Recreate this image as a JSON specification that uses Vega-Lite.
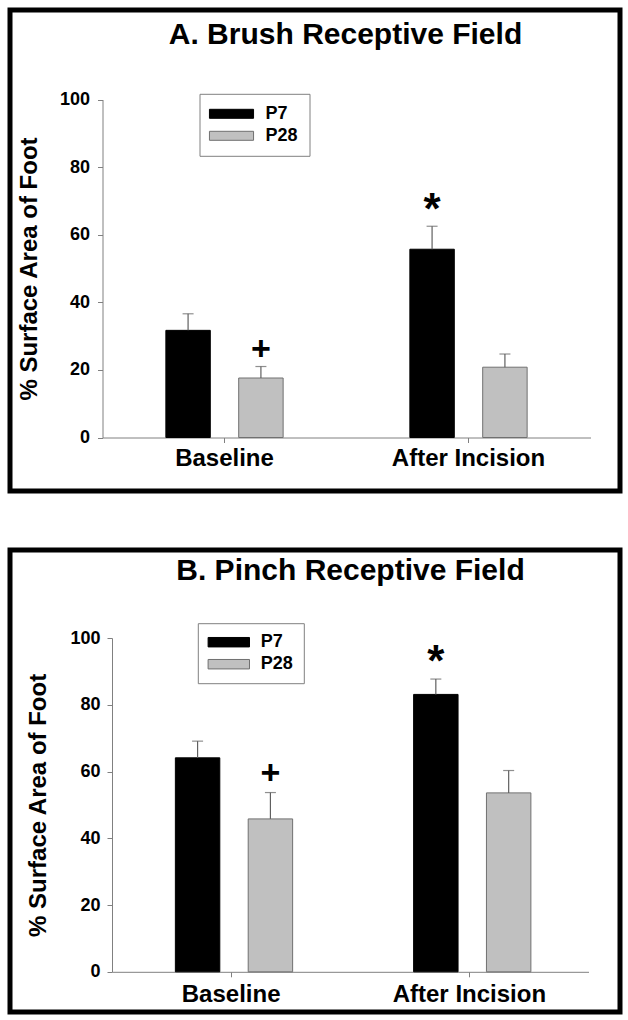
{
  "$schema": "https://vega.github.io/schema/vega-lite/v6.json",
  "padding": {"left": 7, "top": 7, "right": 6, "bottom": 7},
  "spacing": 53,
  "resolve": {"scale": {"fill": "independent", "stroke": "independent"}, "legend": {"fill": "independent", "stroke": "independent"}},
  "config": {
    "view": {"stroke": "black", "strokeWidth": 5},
    "font": "Liberation Sans",
    "axis": {"grid": false}
  },
  "datasets": {
    "brush": [
      {"condition": "Baseline", "age": "P7", "mean": 31.7, "upper": 36.6, "sig": ""},
      {"condition": "Baseline", "age": "P28", "mean": 17.6, "upper": 21.0, "sig": "+"},
      {"condition": "After Incision", "age": "P7", "mean": 55.7, "upper": 62.5, "sig": "*"},
      {"condition": "After Incision", "age": "P28", "mean": 20.8, "upper": 24.7, "sig": ""}
    ],
    "pinch": [
      {"condition": "Baseline", "age": "P7", "mean": 64.1, "upper": 69.1, "sig": ""},
      {"condition": "Baseline", "age": "P28", "mean": 45.8, "upper": 53.7, "sig": "+"},
      {"condition": "After Incision", "age": "P7", "mean": 83.1, "upper": 87.7, "sig": "*"},
      {"condition": "After Incision", "age": "P28", "mean": 53.6, "upper": 60.3, "sig": ""}
    ]
  },
  "vconcat": [
    {
      "width": 610,
      "height": 481,
      "title": {"text": "A. Brush Receptive Field", "fontSize": 30, "fontWeight": "bold", "color": "black", "anchor": "middle", "frame": "group", "baseline": "alphabetic", "offset": -38, "dx": 30.5, "dy": 26},
      "data": {"name": "brush"},
      "encoding": {
        "x": {
          "field": "condition", "type": "nominal", "sort": ["Baseline", "After Incision"],
          "scale": {"range": [92.5, 580.5], "paddingInner": 0, "paddingOuter": 0},
          "axis": {"orient": "bottom", "offset": -53.5, "title": null, "labelAngle": 0, "domainColor": "#808080", "tickColor": "#808080", "tickSize": 5, "labelFontSize": 24, "labelFontWeight": "bold", "labelColor": "black", "labelPadding": 4}
        },
        "xOffset": {"field": "age", "type": "nominal", "sort": ["P7", "P28"], "scale": {"paddingInner": 0.39, "paddingOuter": 0.87}}
      },
      "layer": [
        {
          "mark": {"type": "bar", "strokeWidth": 1},
          "encoding": {
            "y": {
              "field": "mean", "type": "quantitative",
              "scale": {"domain": [0, 100], "range": [427.5, 89.5], "nice": false},
              "axis": {"orient": "left", "offset": -92.5, "values": [0, 20, 40, 60, 80, 100], "domainColor": "#808080", "tickColor": "#808080", "tickSize": 5, "labelFontSize": 18, "labelFontWeight": "bold", "labelColor": "black", "labelPadding": 8, "title": "% Surface Area of Foot", "titleFontSize": 24, "titleFontWeight": "bold", "titleColor": "black", "titlePadding": 18}
            },
            "fill": {"field": "age", "type": "nominal", "sort": ["P7", "P28"], "scale": {"domain": ["P7", "P28"], "range": ["#000000", "#c0c0c0"]},
              "legend": {"orient": "none", "legendX": 189.5, "legendY": 83.8, "title": null, "strokeColor": "#808080", "fillColor": "white", "padding": 11, "labelFontSize": 18, "labelFontWeight": "bold", "labelColor": "black", "symbolType": "M-4.9,-1H4.9V1H-4.9Z", "symbolSize": 81, "symbolStrokeWidth": 1, "symbolOffset": 12, "labelOffset": 25, "rowPadding": 4}},
            "stroke": {"field": "age", "type": "nominal", "sort": ["P7", "P28"], "scale": {"domain": ["P7", "P28"], "range": ["#000000", "#707070"]}}
          }
        },
        {
          "mark": {"type": "rule", "color": "#606060", "strokeWidth": 1.2},
          "encoding": {"y": {"field": "mean", "type": "quantitative"}, "y2": {"field": "upper"}}
        },
        {
          "mark": {"type": "tick", "orient": "horizontal", "size": 11, "thickness": 1.2, "color": "#606060"},
          "encoding": {"y": {"field": "upper", "type": "quantitative"}}
        },
        {
          "transform": [{"filter": "datum.sig === '+'"}],
          "mark": {"type": "text", "fontWeight": "bold", "color": "black", "baseline": "middle", "align": "center", "fontSize": 34, "dy": -17},
          "encoding": {"y": {"field": "upper", "type": "quantitative"}, "text": {"field": "sig"}}
        },
        {
          "transform": [{"filter": "datum.sig === '*'"}],
          "mark": {"type": "text", "fontWeight": "bold", "color": "black", "baseline": "middle", "align": "center", "fontSize": 44, "dy": -15},
          "encoding": {"y": {"field": "upper", "type": "quantitative"}, "text": {"field": "sig"}}
        }
      ]
    },
    {
      "width": 610,
      "height": 462,
      "title": {"text": "B. Pinch Receptive Field", "fontSize": 30, "fontWeight": "bold", "color": "black", "anchor": "middle", "frame": "group", "baseline": "alphabetic", "offset": -36, "dx": 35.5, "dy": 24},
      "data": {"name": "pinch"},
      "encoding": {
        "x": {
          "field": "condition", "type": "nominal", "sort": ["Baseline", "After Incision"],
          "scale": {"range": [102, 578.5], "paddingInner": 0, "paddingOuter": 0},
          "axis": {"orient": "bottom", "offset": -40.2, "title": null, "labelAngle": 0, "domainColor": "#808080", "tickColor": "#808080", "tickSize": 5, "labelFontSize": 24, "labelFontWeight": "bold", "labelColor": "black", "labelPadding": 6}
        },
        "xOffset": {"field": "age", "type": "nominal", "sort": ["P7", "P28"], "scale": {"paddingInner": 0.39, "paddingOuter": 0.87}}
      },
      "layer": [
        {
          "mark": {"type": "bar", "strokeWidth": 1},
          "encoding": {
            "y": {
              "field": "mean", "type": "quantitative",
              "scale": {"domain": [0, 100], "range": [421.8, 88], "nice": false},
              "axis": {"orient": "left", "offset": -102, "values": [0, 20, 40, 60, 80, 100], "domainColor": "#808080", "tickColor": "#808080", "tickSize": 5, "labelFontSize": 18, "labelFontWeight": "bold", "labelColor": "black", "labelPadding": 7, "title": "% Surface Area of Foot", "titleFontSize": 24, "titleFontWeight": "bold", "titleColor": "black", "titlePadding": 19}
            },
            "fill": {"field": "age", "type": "nominal", "sort": ["P7", "P28"], "scale": {"domain": ["P7", "P28"], "range": ["#000000", "#c0c0c0"]},
              "legend": {"orient": "none", "legendX": 187.8, "legendY": 73.2, "title": null, "strokeColor": "#808080", "fillColor": "white", "padding": 10, "labelFontSize": 18, "labelFontWeight": "bold", "labelColor": "black", "symbolType": "M-4.6,-1.05H4.6V1.05H-4.6Z", "symbolSize": 81, "symbolStrokeWidth": 1, "symbolOffset": 12, "labelOffset": 23, "rowPadding": 4}},
            "stroke": {"field": "age", "type": "nominal", "sort": ["P7", "P28"], "scale": {"domain": ["P7", "P28"], "range": ["#000000", "#707070"]}}
          }
        },
        {
          "mark": {"type": "rule", "color": "#606060", "strokeWidth": 1.2},
          "encoding": {"y": {"field": "mean", "type": "quantitative"}, "y2": {"field": "upper"}}
        },
        {
          "mark": {"type": "tick", "orient": "horizontal", "size": 11, "thickness": 1.2, "color": "#606060"},
          "encoding": {"y": {"field": "upper", "type": "quantitative"}}
        },
        {
          "transform": [{"filter": "datum.sig === '+'"}],
          "mark": {"type": "text", "fontWeight": "bold", "color": "black", "baseline": "middle", "align": "center", "fontSize": 34, "dy": -18.5},
          "encoding": {"y": {"field": "upper", "type": "quantitative"}, "text": {"field": "sig"}}
        },
        {
          "transform": [{"filter": "datum.sig === '*'"}],
          "mark": {"type": "text", "fontWeight": "bold", "color": "black", "baseline": "middle", "align": "center", "fontSize": 44, "dy": -16},
          "encoding": {"y": {"field": "upper", "type": "quantitative"}, "text": {"field": "sig"}}
        }
      ]
    }
  ]
}
